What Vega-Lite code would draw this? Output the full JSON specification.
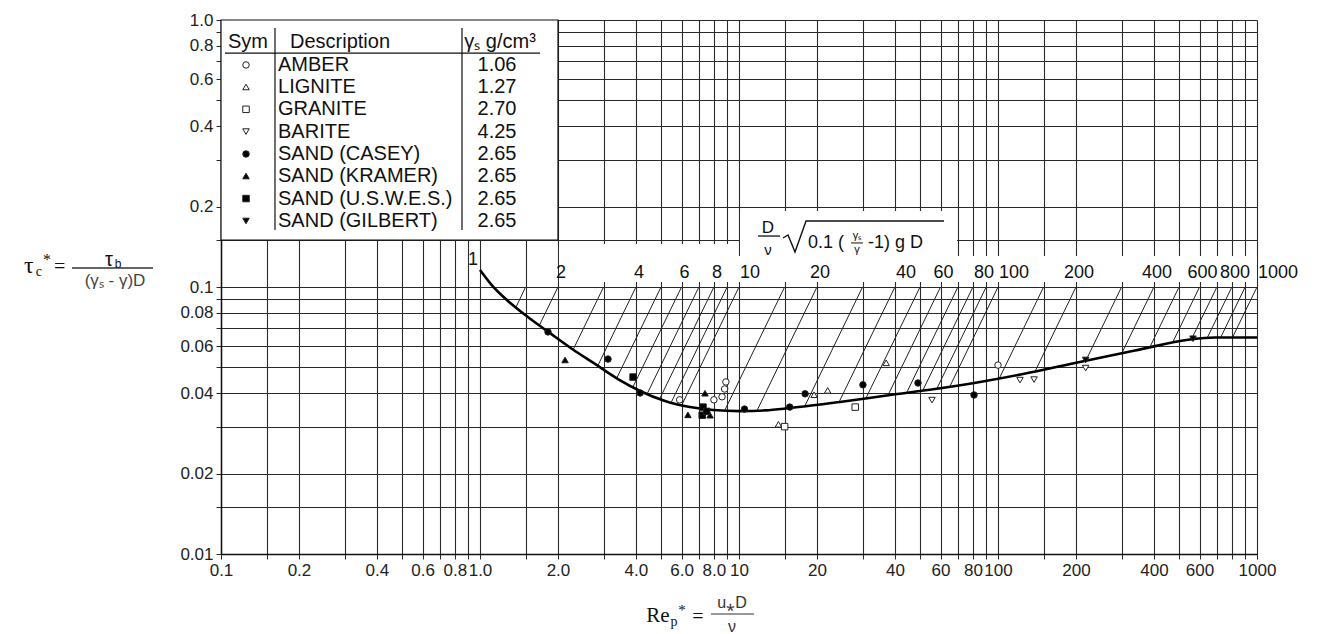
{
"$schema": "https://vega.github.io/schema/vega-lite/v6.json",
"width": 1036, "height": 534,
"autosize": {"type": "none"},
"padding": {"left": 221, "top": 20, "right": 67, "bottom": 80},
"background": "white",
"config": {
  "view": {"stroke": null},
  "axis": {"domainColor": "#111", "domainWidth": 1.5, "gridColor": "#2a2a2a", "gridWidth": 1.1, "gridOpacity": 1, "tickColor": "#2a2a2a", "tickSize": 5, "labelFont": "Liberation Sans", "labelFontSize": 17, "labelColor": "#222", "labelPadding": 3},
  "text": {"font": "Liberation Sans", "color": "#111", "baseline": "middle", "align": "center"}
},
"datasets": {
  "curve": [
    {"Re": 1.0, "tau": 0.1158}, {"Re": 1.11, "tau": 0.1017}, {"Re": 1.27, "tau": 0.0894}, {"Re": 1.53, "tau": 0.0772},
    {"Re": 1.86, "tau": 0.0673}, {"Re": 2.27, "tau": 0.0586}, {"Re": 2.78, "tau": 0.0515}, {"Re": 3.41, "tau": 0.0452},
    {"Re": 4.15, "tau": 0.0408}, {"Re": 5.18, "tau": 0.0374}, {"Re": 6.47, "tau": 0.0355}, {"Re": 7.94, "tau": 0.0346},
    {"Re": 10.1, "tau": 0.0343}, {"Re": 12.6, "tau": 0.0345}, {"Re": 15.7, "tau": 0.0352}, {"Re": 24.5, "tau": 0.0371},
    {"Re": 38.3, "tau": 0.0394}, {"Re": 57.1, "tau": 0.0415}, {"Re": 85.2, "tau": 0.0441}, {"Re": 133, "tau": 0.0478},
    {"Re": 207, "tau": 0.0524}, {"Re": 338, "tau": 0.0578}, {"Re": 551, "tau": 0.0636}, {"Re": 688, "tau": 0.0647},
    {"Re": 1000, "tau": 0.0647}
  ],
  "diag": [
    {"P": 1.5, "t0": 0.1, "Re1": 1.376, "t1": 0.0839}, {"P": 2, "t0": 0.1, "Re1": 1.695, "t1": 0.0718}, {"P": 3, "t0": 0.1, "Re1": 2.29, "t1": 0.0583},
    {"P": 4, "t0": 0.1, "Re1": 2.85, "t1": 0.0507}, {"P": 5, "t0": 0.1, "Re1": 3.37, "t1": 0.0455}, {"P": 6, "t0": 0.1, "Re1": 3.89, "t1": 0.0421},
    {"P": 7, "t0": 0.1, "Re1": 4.42, "t1": 0.0398}, {"P": 8, "t0": 0.1, "Re1": 4.94, "t1": 0.0381}, {"P": 9, "t0": 0.1, "Re1": 5.47, "t1": 0.0369},
    {"P": 10, "t0": 0.1, "Re1": 6.01, "t1": 0.0361}, {"P": 15, "t0": 0.1, "Re1": 8.81, "t1": 0.0345}, {"P": 20, "t0": 0.1, "Re1": 11.73, "t1": 0.0344},
    {"P": 30, "t0": 0.1, "Re1": 17.95, "t1": 0.0358}, {"P": 40, "t0": 0.1, "Re1": 24.35, "t1": 0.0371}, {"P": 50, "t0": 0.1, "Re1": 30.9, "t1": 0.0383},
    {"P": 60, "t0": 0.1, "Re1": 37.6, "t1": 0.0393}, {"P": 70, "t0": 0.1, "Re1": 44.4, "t1": 0.0402}, {"P": 80, "t0": 0.1, "Re1": 51.2, "t1": 0.0409},
    {"P": 90, "t0": 0.1, "Re1": 58.05, "t1": 0.0416}, {"P": 100, "t0": 0.1, "Re1": 65.1, "t1": 0.0423}, {"P": 150, "t0": 0.1, "Re1": 101.2, "t1": 0.0455},
    {"P": 200, "t0": 0.1, "Re1": 138.9, "t1": 0.0482}, {"P": 300, "t0": 0.1, "Re1": 218.4, "t1": 0.053}, {"P": 400, "t0": 0.1, "Re1": 300.4, "t1": 0.0564},
    {"P": 500, "t0": 0.1, "Re1": 385, "t1": 0.0593}, {"P": 600, "t0": 0.1, "Re1": 471.3, "t1": 0.0617}, {"P": 700, "t0": 0.1, "Re1": 558, "t1": 0.0637},
    {"P": 800, "t0": 0.1, "Re1": 642, "t1": 0.0644}, {"P": 900, "t0": 0.1, "Re1": 724, "t1": 0.0647}, {"P": 1000, "t0": 0.1, "Re1": 804, "t1": 0.0647}
  ],
  "plabels": [
    {"P": 1, "label": "1"}, {"P": 2, "label": "2"}, {"P": 4, "label": "4"}, {"P": 6, "label": "6"}, {"P": 8, "label": "8"},
    {"P": 10, "label": "10"}, {"P": 20, "label": "20"}, {"P": 40, "label": "40"}, {"P": 60, "label": "60"}, {"P": 80, "label": "80"},
    {"P": 100, "label": "100"}, {"P": 200, "label": "200"}, {"P": 400, "label": "400"}, {"P": 600, "label": "600"},
    {"P": 800, "label": "800"}, {"P": 1000, "label": "1000"}
  ],
  "points": [
    {"mat": "AMBER", "Re": 8.9, "tau": 0.0441}, {"mat": "AMBER", "Re": 8.8, "tau": 0.0415}, {"mat": "AMBER", "Re": 8.6, "tau": 0.0388},
    {"mat": "AMBER", "Re": 8.0, "tau": 0.0378}, {"mat": "AMBER", "Re": 5.9, "tau": 0.0378}, {"mat": "AMBER", "Re": 100, "tau": 0.051},
    {"mat": "LIGNITE", "Re": 14.2, "tau": 0.0306}, {"mat": "LIGNITE", "Re": 19.5, "tau": 0.0395}, {"mat": "LIGNITE", "Re": 22, "tau": 0.041},
    {"mat": "LIGNITE", "Re": 37, "tau": 0.052},
    {"mat": "GRANITE", "Re": 15.0, "tau": 0.030}, {"mat": "GRANITE", "Re": 28.1, "tau": 0.0355},
    {"mat": "BARITE", "Re": 55.6, "tau": 0.0377}, {"mat": "BARITE", "Re": 121.6, "tau": 0.0448}, {"mat": "BARITE", "Re": 137.8, "tau": 0.045},
    {"mat": "BARITE", "Re": 218, "tau": 0.0497},
    {"mat": "SAND (CASEY)", "Re": 1.83, "tau": 0.0679}, {"mat": "SAND (CASEY)", "Re": 3.12, "tau": 0.0537}, {"mat": "SAND (CASEY)", "Re": 4.15, "tau": 0.0401},
    {"mat": "SAND (CASEY)", "Re": 10.5, "tau": 0.0349}, {"mat": "SAND (CASEY)", "Re": 15.7, "tau": 0.0355}, {"mat": "SAND (CASEY)", "Re": 18.0, "tau": 0.0398},
    {"mat": "SAND (CASEY)", "Re": 30.1, "tau": 0.043}, {"mat": "SAND (CASEY)", "Re": 49.1, "tau": 0.0437}, {"mat": "SAND (CASEY)", "Re": 80.8, "tau": 0.0394},
    {"mat": "SAND (KRAMER)", "Re": 2.13, "tau": 0.0533}, {"mat": "SAND (KRAMER)", "Re": 6.35, "tau": 0.0332}, {"mat": "SAND (KRAMER)", "Re": 7.39, "tau": 0.040},
    {"mat": "SAND (KRAMER)", "Re": 7.73, "tau": 0.0331},
    {"mat": "SAND (U.S.W.E.S.)", "Re": 3.9, "tau": 0.046}, {"mat": "SAND (U.S.W.E.S.)", "Re": 7.26, "tau": 0.0355}, {"mat": "SAND (U.S.W.E.S.)", "Re": 7.21, "tau": 0.0331},
    {"mat": "SAND (U.S.W.E.S.)", "Re": 7.5, "tau": 0.0342},
    {"mat": "SAND (GILBERT)", "Re": 218, "tau": 0.0533}, {"mat": "SAND (GILBERT)", "Re": 566, "tau": 0.064}
  ],
  "legend": [
    {"mat": "AMBER", "gamma": "1.06"}, {"mat": "LIGNITE", "gamma": "1.27"}, {"mat": "GRANITE", "gamma": "2.70"}, {"mat": "BARITE", "gamma": "4.25"},
    {"mat": "SAND (CASEY)", "gamma": "2.65"}, {"mat": "SAND (KRAMER)", "gamma": "2.65"}, {"mat": "SAND (U.S.W.E.S.)", "gamma": "2.65"}, {"mat": "SAND (GILBERT)", "gamma": "2.65"}
  ]
},
"layer": [
    {"data": {"values": [{}]}, "mark": {"type": "point", "shape": "M0,0H337V220H0Z", "size": 4, "filled": true, "fill": "white", "stroke": "#111", "strokeWidth": 1.2, "opacity": 1},
     "encoding": {"x": {"datum": 0.1, "type": "quantitative", "scale": {"type": "log", "domain": [0.1, 1000], "nice": false}},
                  "y": {"datum": 1.0, "type": "quantitative", "scale": {"type": "log", "domain": [0.01, 1], "nice": false}}}},
    {"data": {"values": [{}]}, "mark": {"type": "point", "shape": "M0,0H698V26H0Z", "size": 4, "filled": true, "fill": "white", "strokeWidth": 0, "opacity": 1},
     "encoding": {"x": {"datum": 2.018, "type": "quantitative"}, "y": {"datum": 0.1306, "type": "quantitative"}}},
    {"data": {"values": [{}]}, "mark": {"type": "point", "shape": "M0,0H179V13H0Z", "size": 4, "filled": true, "fill": "white", "strokeWidth": 0, "opacity": 1},
     "encoding": {"x": {"datum": 2.018, "type": "quantitative"}, "y": {"datum": 0.1449, "type": "quantitative"}}},
    {"data": {"values": [{}]}, "mark": {"type": "point", "shape": "M0,0H217V71H0Z", "size": 4, "filled": true, "fill": "white", "strokeWidth": 0, "opacity": 1},
     "encoding": {"x": {"datum": 10.09, "type": "quantitative"}, "y": {"datum": 0.1926, "type": "quantitative"}}},
    {"data": {"values": [{}]}, "mark": {"type": "point", "shape": "M0,0H315", "size": 4, "filled": false, "stroke": "#111", "strokeWidth": 1.2, "opacity": 1},
     "encoding": {"x": {"datum": 0.1036, "type": "quantitative"}, "y": {"datum": 0.7521, "type": "quantitative"}}},
    {"data": {"values": [{}]}, "mark": {"type": "point", "shape": "M0,0V202", "size": 4, "filled": false, "stroke": "#111", "strokeWidth": 1.2, "opacity": 1},
     "encoding": {"x": {"datum": 0.1616, "type": "quantitative"}, "y": {"datum": 0.9333, "type": "quantitative"}}},
    {"data": {"values": [{}]}, "mark": {"type": "point", "shape": "M0,0V202", "size": 4, "filled": false, "stroke": "#111", "strokeWidth": 1.2, "opacity": 1},
     "encoding": {"x": {"datum": 0.852, "type": "quantitative"}, "y": {"datum": 0.9333, "type": "quantitative"}}},

    {"data": {"name": "diag"}, "mark": {"type": "rule", "stroke": "#222", "strokeWidth": 1},
     "encoding": {"x": {"field": "P", "type": "quantitative", "title": null}, "x2": {"field": "Re1"},
                  "y": {"field": "t0", "type": "quantitative", "title": null}, "y2": {"field": "t1"}}},
    {"data": {"name": "curve"}, "mark": {"type": "line", "interpolate": "monotone", "stroke": "#000", "strokeWidth": 2.6},
     "encoding": {
       "x": {"field": "Re", "type": "quantitative", "title": null, "scale": {"type": "log", "domain": [0.1, 1000], "nice": false},
             "axis": {"title": null, "grid": true, "labelOverlap": false, "labelFlush": false, "labelBound": false,
                      "values": [0.1,0.15,0.2,0.3,0.4,0.5,0.6,0.7,0.8,0.9,1,1.5,2,3,4,5,6,7,8,9,10,15,20,30,40,50,60,70,80,90,100,150,200,300,400,500,600,700,800,900,1000],
                      "labelExpr": "indexof([0.1,0.2,0.4,0.6,0.8,1,2,4,6,8,10,20,40,60,80,100,200,400,600,1000], datum.value) < 0 ? '' : (datum.value >= 1 && datum.value < 10 ? format(datum.value, '.1f') : format(datum.value, ''))"}},
       "y": {"field": "tau", "type": "quantitative", "title": null, "scale": {"type": "log", "domain": [0.01, 1], "nice": false},
             "axis": {"title": null, "grid": true, "labelOverlap": false, "labelFlush": false, "labelBound": false,
                      "values": [0.01,0.015,0.02,0.03,0.04,0.05,0.06,0.07,0.08,0.09,0.1,0.15,0.2,0.3,0.4,0.5,0.6,0.7,0.8,0.9,1],
                      "labelExpr": "indexof([0.01,0.02,0.04,0.06,0.08,0.1,0.2,0.4,0.6,0.8,1], datum.value) < 0 ? '' : (datum.value == 1 ? '1.0' : format(datum.value, ''))"}}}},
    {"data": {"name": "points"}, "mark": {"type": "point", "filled": true, "stroke": "#222", "strokeWidth": 1, "opacity": 1},
     "encoding": {"x": {"field": "Re", "type": "quantitative", "title": null}, "y": {"field": "tau", "type": "quantitative", "title": null},
       "shape": {"field": "mat", "type": "nominal", "legend": null, "scale": {"domain": ["AMBER","LIGNITE","GRANITE","BARITE","SAND (CASEY)","SAND (KRAMER)","SAND (U.S.W.E.S.)","SAND (GILBERT)"], "range": ["circle","triangle-up","square","triangle-down","circle","triangle-up","square","triangle-down"]}},
       "fill": {"field": "mat", "type": "nominal", "legend": null, "scale": {"domain": ["AMBER","LIGNITE","GRANITE","BARITE","SAND (CASEY)","SAND (KRAMER)","SAND (U.S.W.E.S.)","SAND (GILBERT)"], "range": ["white","white","white","white","black","black","black","black"]}},
       "size": {"field": "mat", "type": "nominal", "legend": null, "scale": {"domain": ["AMBER","LIGNITE","GRANITE","BARITE","SAND (CASEY)","SAND (KRAMER)","SAND (U.S.W.E.S.)","SAND (GILBERT)"], "range": [42,42,42,42,75,75,75,75]}}}},
    {"data": {"name": "plabels"}, "transform": [{"filter": {"field": "P", "oneOf": [2,4,6,8,20,60,200,400,600,800]}}],
     "mark": {"type": "text", "fontSize": 18, "align": "center", "dx": 3, "color": "#111"},
     "encoding": {"x": {"field": "P", "type": "quantitative", "title": null}, "y": {"datum": 0.1128, "type": "quantitative"}, "text": {"field": "label"}}},
    {"data": {"name": "plabels"}, "transform": [{"filter": {"field": "P", "oneOf": [10,40,80,100,1000]}}],
     "mark": {"type": "text", "fontSize": 18, "align": "left", "dx": 1, "color": "#111"},
     "encoding": {"x": {"field": "P", "type": "quantitative", "title": null}, "y": {"datum": 0.1128, "type": "quantitative"}, "text": {"field": "label"}}},
    {"data": {"name": "plabels"}, "transform": [{"filter": {"field": "P", "oneOf": [1]}}],
     "mark": {"type": "text", "fontSize": 18, "align": "right", "dx": -2, "color": "#111"},
     "encoding": {"x": {"field": "P", "type": "quantitative", "title": null}, "y": {"datum": 0.1262, "type": "quantitative"}, "text": {"field": "label"}}},

    {"data": {"values": [{}]}, "mark": {"type": "text", "fontSize": 17, "color": "#111", "text": "D"},
     "encoding": {"x": {"datum": 12.94, "type": "quantitative"}, "y": {"datum": 0.1663, "type": "quantitative"}}},
    {"data": {"values": [{}]}, "mark": {"type": "point", "shape": "M0,0H22", "size": 4, "filled": false, "stroke": "#111", "strokeWidth": 1.3, "opacity": 1},
     "encoding": {"x": {"datum": 11.84, "type": "quantitative"}, "y": {"datum": 0.1552, "type": "quantitative"}}},
    {"data": {"values": [{}]}, "mark": {"type": "text", "fontSize": 15, "color": "#111", "text": "ν"},
     "encoding": {"x": {"datum": 12.94, "type": "quantitative"}, "y": {"datum": 0.1376, "type": "quantitative"}}},
    {"data": {"values": [{}]}, "mark": {"type": "point", "shape": "M0,0L5,-3L12,14L23,-17H161", "size": 4, "filled": false, "stroke": "#111", "strokeWidth": 1.4, "opacity": 1},
     "encoding": {"x": {"datum": 14.79, "type": "quantitative"}, "y": {"datum": 0.1526, "type": "quantitative"}}},
    {"data": {"values": [{}]}, "mark": {"type": "text", "fontSize": 18, "align": "left", "color": "#111", "text": "0.1 ("},
     "encoding": {"x": {"datum": 18.47, "type": "quantitative"}, "y": {"datum": 0.1462, "type": "quantitative"}}},
    {"data": {"values": [{}]}, "mark": {"type": "text", "fontSize": 11, "color": "#111", "text": "γₛ"},
     "encoding": {"x": {"datum": 28.55, "type": "quantitative"}, "y": {"datum": 0.1552, "type": "quantitative"}}},
    {"data": {"values": [{}]}, "mark": {"type": "point", "shape": "M0,0H12", "size": 4, "filled": false, "stroke": "#111", "strokeWidth": 1, "opacity": 1},
     "encoding": {"x": {"datum": 27.06, "type": "quantitative"}, "y": {"datum": 0.1462, "type": "quantitative"}}},
    {"data": {"values": [{}]}, "mark": {"type": "text", "fontSize": 11, "color": "#111", "text": "γ"},
     "encoding": {"x": {"datum": 28.55, "type": "quantitative"}, "y": {"datum": 0.1376, "type": "quantitative"}}},
    {"data": {"values": [{}]}, "mark": {"type": "text", "fontSize": 18, "align": "left", "color": "#111", "text": "-1) g D"},
     "encoding": {"x": {"datum": 31.48, "type": "quantitative"}, "y": {"datum": 0.1462, "type": "quantitative"}}},

    {"data": {"values": [{}]}, "mark": {"type": "text", "fontSize": 24, "font": "Liberation Serif", "color": "#111", "text": "τ"},
     "encoding": {"x": {"datum": 0.0181, "type": "quantitative"}, "y": {"datum": 0.1198, "type": "quantitative"}}},
    {"data": {"values": [{}]}, "mark": {"type": "text", "fontSize": 14, "font": "Liberation Serif", "color": "#111", "text": "c"},
     "encoding": {"x": {"datum": 0.0198, "type": "quantitative"}, "y": {"datum": 0.1138, "type": "quantitative"}}},
    {"data": {"values": [{}]}, "mark": {"type": "text", "fontSize": 16, "font": "Liberation Serif", "color": "#111", "text": "*"},
     "encoding": {"x": {"datum": 0.0213, "type": "quantitative"}, "y": {"datum": 0.1262, "type": "quantitative"}}},
    {"data": {"values": [{}]}, "mark": {"type": "text", "fontSize": 20, "font": "Liberation Serif", "color": "#111", "text": "="},
     "encoding": {"x": {"datum": 0.0238, "type": "quantitative"}, "y": {"datum": 0.1188, "type": "quantitative"}}},
    {"data": {"values": [{}]}, "mark": {"type": "text", "fontSize": 20, "color": "#111", "text": "τ"},
     "encoding": {"x": {"datum": 0.03695, "type": "quantitative"}, "y": {"datum": 0.1262, "type": "quantitative"}}},
    {"data": {"values": [{}]}, "mark": {"type": "text", "fontSize": 12, "color": "#111", "text": "b"},
     "encoding": {"x": {"datum": 0.04003, "type": "quantitative"}, "y": {"datum": 0.1220, "type": "quantitative"}}},
    {"data": {"values": [{}]}, "mark": {"type": "point", "shape": "M0,0H81", "size": 4, "filled": false, "stroke": "#333", "strokeWidth": 1.3, "opacity": 1},
     "encoding": {"x": {"datum": 0.0266, "type": "quantitative"}, "y": {"datum": 0.1178, "type": "quantitative"}}},
    {"data": {"values": [{}]}, "mark": {"type": "text", "fontSize": 17, "color": "#444", "text": "(γₛ - γ)D"},
     "encoding": {"x": {"datum": 0.03898, "type": "quantitative"}, "y": {"datum": 0.1053, "type": "quantitative"}}},

    {"data": {"values": [{}]}, "mark": {"type": "text", "fontSize": 21, "font": "Liberation Serif", "color": "#111", "text": "Re"},
     "encoding": {"x": {"datum": 4.868, "type": "quantitative"}, "y": {"datum": 0.005858, "type": "quantitative"}}},
    {"data": {"values": [{}]}, "mark": {"type": "text", "fontSize": 14, "font": "Liberation Serif", "color": "#111", "text": "p"},
     "encoding": {"x": {"datum": 5.61, "type": "quantitative"}, "y": {"datum": 0.005563, "type": "quantitative"}}},
    {"data": {"values": [{}]}, "mark": {"type": "text", "fontSize": 15, "font": "Liberation Serif", "color": "#111", "text": "*"},
     "encoding": {"x": {"datum": 6.026, "type": "quantitative"}, "y": {"datum": 0.006169, "type": "quantitative"}}},
    {"data": {"values": [{}]}, "mark": {"type": "text", "fontSize": 20, "font": "Liberation Serif", "color": "#111", "text": "="},
     "encoding": {"x": {"datum": 6.946, "type": "quantitative"}, "y": {"datum": 0.005808, "type": "quantitative"}}},
    {"data": {"values": [{}]}, "mark": {"type": "text", "fontSize": 16, "color": "#333", "text": "u⁎D"},
     "encoding": {"x": {"datum": 9.397, "type": "quantitative"}, "y": {"datum": 0.006555, "type": "quantitative"}}},
    {"data": {"values": [{}]}, "mark": {"type": "point", "shape": "M0,0H43", "size": 4, "filled": false, "stroke": "#333", "strokeWidth": 1.2, "opacity": 1},
     "encoding": {"x": {"datum": 7.797, "type": "quantitative"}, "y": {"datum": 0.005961, "type": "quantitative"}}},
    {"data": {"values": [{}]}, "mark": {"type": "text", "fontSize": 16, "color": "#333", "text": "ν"},
     "encoding": {"x": {"datum": 9.397, "type": "quantitative"}, "y": {"datum": 0.005328, "type": "quantitative"}}},

    {"data": {"values": [{}]}, "mark": {"type": "text", "fontSize": 20, "color": "#111", "text": "Sym"},
     "encoding": {"x": {"datum": 0.1271, "type": "quantitative"}, "y": {"datum": 0.827, "type": "quantitative"}}},
    {"data": {"values": [{}]}, "mark": {"type": "text", "fontSize": 20, "align": "left", "color": "#111", "text": "Description"},
     "encoding": {"x": {"datum": 0.1847, "type": "quantitative"}, "y": {"datum": 0.827, "type": "quantitative"}}},
    {"data": {"values": [{}]}, "mark": {"type": "text", "fontSize": 20, "color": "#111", "text": "γₛ g/cm³"},
     "encoding": {"x": {"datum": 1.195, "type": "quantitative"}, "y": {"datum": 0.827, "type": "quantitative"}}},

    {"data": {"name": "legend"}, "transform": [{"filter": {"field": "mat", "equal": "AMBER"}}], "encoding": {"y": {"datum": 0.6785, "type": "quantitative"}},
     "layer": [
       {"mark": {"type": "point", "filled": true, "stroke": "#222", "strokeWidth": 1, "opacity": 1}, "encoding": {"x": {"datum": 0.1249, "type": "quantitative"}, "shape": {"field": "mat", "type": "nominal", "legend": null}, "fill": {"field": "mat", "type": "nominal", "legend": null}, "size": {"field": "mat", "type": "nominal", "legend": null}}},
       {"mark": {"type": "text", "fontSize": 20, "align": "left", "color": "#111"}, "encoding": {"x": {"datum": 0.166, "type": "quantitative"}, "text": {"field": "mat"}}},
       {"mark": {"type": "text", "fontSize": 20, "color": "#111"}, "encoding": {"x": {"datum": 1.163, "type": "quantitative"}, "text": {"field": "gamma"}}}]},
    {"data": {"name": "legend"}, "transform": [{"filter": {"field": "mat", "equal": "LIGNITE"}}], "encoding": {"y": {"datum": 0.5613, "type": "quantitative"}},
     "layer": [
       {"mark": {"type": "point", "filled": true, "stroke": "#222", "strokeWidth": 1, "opacity": 1}, "encoding": {"x": {"datum": 0.1249, "type": "quantitative"}, "shape": {"field": "mat", "type": "nominal", "legend": null}, "fill": {"field": "mat", "type": "nominal", "legend": null}, "size": {"field": "mat", "type": "nominal", "legend": null}}},
       {"mark": {"type": "text", "fontSize": 20, "align": "left", "color": "#111"}, "encoding": {"x": {"datum": 0.166, "type": "quantitative"}, "text": {"field": "mat"}}},
       {"mark": {"type": "text", "fontSize": 20, "color": "#111"}, "encoding": {"x": {"datum": 1.163, "type": "quantitative"}, "text": {"field": "gamma"}}}]},
    {"data": {"name": "legend"}, "transform": [{"filter": {"field": "mat", "equal": "GRANITE"}}], "encoding": {"y": {"datum": 0.4629, "type": "quantitative"}},
     "layer": [
       {"mark": {"type": "point", "filled": true, "stroke": "#222", "strokeWidth": 1, "opacity": 1}, "encoding": {"x": {"datum": 0.1249, "type": "quantitative"}, "shape": {"field": "mat", "type": "nominal", "legend": null}, "fill": {"field": "mat", "type": "nominal", "legend": null}, "size": {"field": "mat", "type": "nominal", "legend": null}}},
       {"mark": {"type": "text", "fontSize": 20, "align": "left", "color": "#111"}, "encoding": {"x": {"datum": 0.166, "type": "quantitative"}, "text": {"field": "mat"}}},
       {"mark": {"type": "text", "fontSize": 20, "color": "#111"}, "encoding": {"x": {"datum": 1.163, "type": "quantitative"}, "text": {"field": "gamma"}}}]},
    {"data": {"name": "legend"}, "transform": [{"filter": {"field": "mat", "equal": "BARITE"}}], "encoding": {"y": {"datum": 0.3820, "type": "quantitative"}},
     "layer": [
       {"mark": {"type": "point", "filled": true, "stroke": "#222", "strokeWidth": 1, "opacity": 1}, "encoding": {"x": {"datum": 0.1249, "type": "quantitative"}, "shape": {"field": "mat", "type": "nominal", "legend": null}, "fill": {"field": "mat", "type": "nominal", "legend": null}, "size": {"field": "mat", "type": "nominal", "legend": null}}},
       {"mark": {"type": "text", "fontSize": 20, "align": "left", "color": "#111"}, "encoding": {"x": {"datum": 0.166, "type": "quantitative"}, "text": {"field": "mat"}}},
       {"mark": {"type": "text", "fontSize": 20, "color": "#111"}, "encoding": {"x": {"datum": 1.163, "type": "quantitative"}, "text": {"field": "gamma"}}}]},
    {"data": {"name": "legend"}, "transform": [{"filter": {"field": "mat", "equal": "SAND (CASEY)"}}], "encoding": {"y": {"datum": 0.3149, "type": "quantitative"}},
     "layer": [
       {"mark": {"type": "point", "filled": true, "stroke": "#222", "strokeWidth": 1, "opacity": 1}, "encoding": {"x": {"datum": 0.1249, "type": "quantitative"}, "shape": {"field": "mat", "type": "nominal", "legend": null}, "fill": {"field": "mat", "type": "nominal", "legend": null}, "size": {"field": "mat", "type": "nominal", "legend": null}}},
       {"mark": {"type": "text", "fontSize": 20, "align": "left", "color": "#111"}, "encoding": {"x": {"datum": 0.166, "type": "quantitative"}, "text": {"field": "mat"}}},
       {"mark": {"type": "text", "fontSize": 20, "color": "#111"}, "encoding": {"x": {"datum": 1.163, "type": "quantitative"}, "text": {"field": "gamma"}}}]},
    {"data": {"name": "legend"}, "transform": [{"filter": {"field": "mat", "equal": "SAND (KRAMER)"}}], "encoding": {"y": {"datum": 0.2604, "type": "quantitative"}},
     "layer": [
       {"mark": {"type": "point", "filled": true, "stroke": "#222", "strokeWidth": 1, "opacity": 1}, "encoding": {"x": {"datum": 0.1249, "type": "quantitative"}, "shape": {"field": "mat", "type": "nominal", "legend": null}, "fill": {"field": "mat", "type": "nominal", "legend": null}, "size": {"field": "mat", "type": "nominal", "legend": null}}},
       {"mark": {"type": "text", "fontSize": 20, "align": "left", "color": "#111"}, "encoding": {"x": {"datum": 0.166, "type": "quantitative"}, "text": {"field": "mat"}}},
       {"mark": {"type": "text", "fontSize": 20, "color": "#111"}, "encoding": {"x": {"datum": 1.163, "type": "quantitative"}, "text": {"field": "gamma"}}}]},
    {"data": {"name": "legend"}, "transform": [{"filter": {"field": "mat", "equal": "SAND (U.S.W.E.S.)"}}], "encoding": {"y": {"datum": 0.2144, "type": "quantitative"}},
     "layer": [
       {"mark": {"type": "point", "filled": true, "stroke": "#222", "strokeWidth": 1, "opacity": 1}, "encoding": {"x": {"datum": 0.1249, "type": "quantitative"}, "shape": {"field": "mat", "type": "nominal", "legend": null}, "fill": {"field": "mat", "type": "nominal", "legend": null}, "size": {"field": "mat", "type": "nominal", "legend": null}}},
       {"mark": {"type": "text", "fontSize": 20, "align": "left", "color": "#111"}, "encoding": {"x": {"datum": 0.166, "type": "quantitative"}, "text": {"field": "mat"}}},
       {"mark": {"type": "text", "fontSize": 20, "color": "#111"}, "encoding": {"x": {"datum": 1.163, "type": "quantitative"}, "text": {"field": "gamma"}}}]},
    {"data": {"name": "legend"}, "transform": [{"filter": {"field": "mat", "equal": "SAND (GILBERT)"}}], "encoding": {"y": {"datum": 0.1767, "type": "quantitative"}},
     "layer": [
       {"mark": {"type": "point", "filled": true, "stroke": "#222", "strokeWidth": 1, "opacity": 1}, "encoding": {"x": {"datum": 0.1249, "type": "quantitative"}, "shape": {"field": "mat", "type": "nominal", "legend": null}, "fill": {"field": "mat", "type": "nominal", "legend": null}, "size": {"field": "mat", "type": "nominal", "legend": null}}},
       {"mark": {"type": "text", "fontSize": 20, "align": "left", "color": "#111"}, "encoding": {"x": {"datum": 0.166, "type": "quantitative"}, "text": {"field": "mat"}}},
       {"mark": {"type": "text", "fontSize": 20, "color": "#111"}, "encoding": {"x": {"datum": 1.163, "type": "quantitative"}, "text": {"field": "gamma"}}}]}
]
}
